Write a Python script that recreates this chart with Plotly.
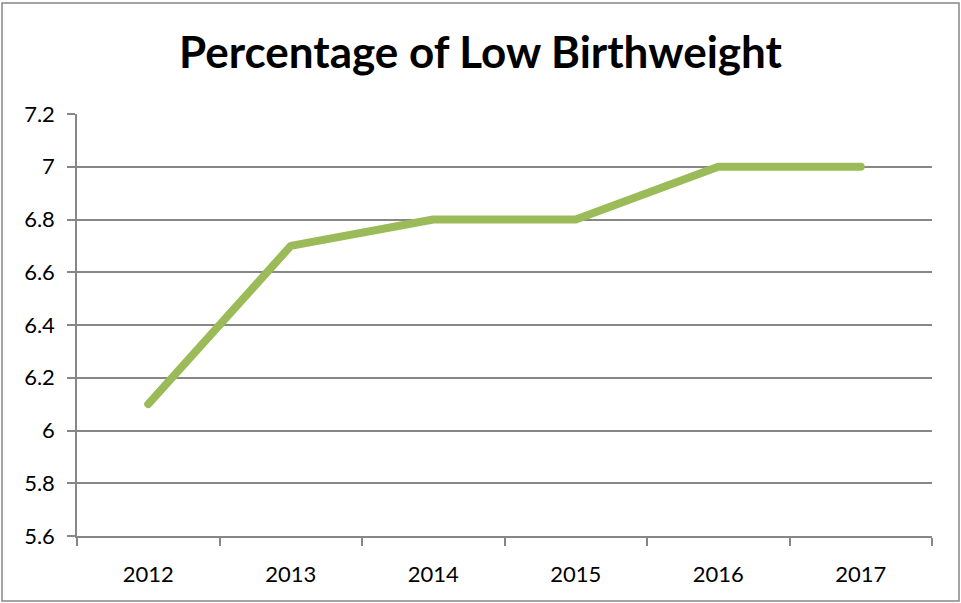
import plotly.graph_objects as go

years = ["2012", "2013", "2014", "2015", "2016", "2017"]
values = [6.1, 6.7, 6.8, 6.8, 7.0, 7.0]
y_ticks = [5.6, 5.8, 6.0, 6.2, 6.4, 6.6, 6.8, 7.0, 7.2]
y_tick_text = ["5.6", "5.8", "6", "6.2", "6.4", "6.6", "6.8", "7", "7.2"]

W, H = 961, 603
ML, MR, MT, MB = 77, 29, 114, 67
pw, ph = W - ML - MR, H - MT - MB

fig = go.Figure()
fig.add_trace(go.Scatter(
    x=years, y=values, mode="lines",
    line=dict(color="#9BBB59", width=8, shape="linear"),
    hoverinfo="x+y",
))

grid = "#878787"
fig.update_layout(
    width=W, height=H,
    margin=dict(l=ML, r=MR, t=MT, b=MB),
    paper_bgcolor="white", plot_bgcolor="white",
    showlegend=False,
    font=dict(family="Lato, Carlito, sans-serif", color="#000000", size=22),
    title=dict(text="<b>Percentage of Low Birthweight</b>",
               x=0.5, xanchor="center", y=1 - 53 / H, yanchor="middle",
               font=dict(size=44, family="Lato, sans-serif", color="#000000")),
    xaxis=dict(
        type="category", range=[-0.5, 5.5],
        showgrid=False, showline=True, linecolor=grid, linewidth=1.5,
        ticks="outside", tickson="boundaries", ticklen=8, tickcolor=grid,
        tickwidth=1.5, tickfont=dict(size=22), zeroline=False,
        ticklabelstandoff=18,
    ),
    yaxis=dict(
        range=[5.6, 7.2], tickvals=y_ticks, ticktext=y_tick_text,
        showgrid=True, gridcolor=grid, gridwidth=1.5,
        showline=True, linecolor=grid, linewidth=1.5,
        ticks="outside", ticklen=8, tickcolor=grid, tickwidth=1.5,
        tickfont=dict(size=22), zeroline=False, ticklabelstandoff=8,
    ),
)

# outer chart border
x0 = (2 - ML) / pw
x1 = (959 - ML) / pw
y0 = (H - 601 - MB) / ph
y1 = (H - 3 - MB) / ph
fig.add_shape(type="rect", xref="paper", yref="paper",
              x0=x0, x1=x1, y0=y0, y1=y1,
              line=dict(color="#878787", width=1.5), layer="below")

post = (
    "document.body.style.margin='0px';"
    "document.body.style.overflow='hidden';"
    "document.querySelectorAll('.scatterlayer path.js-line').forEach(function(p){"
    "p.style.strokeLinecap='round';p.style.strokeLinejoin='round';});"
)
fig.write_html("out.html", config={"displayModeBar": False}, post_script=post)
